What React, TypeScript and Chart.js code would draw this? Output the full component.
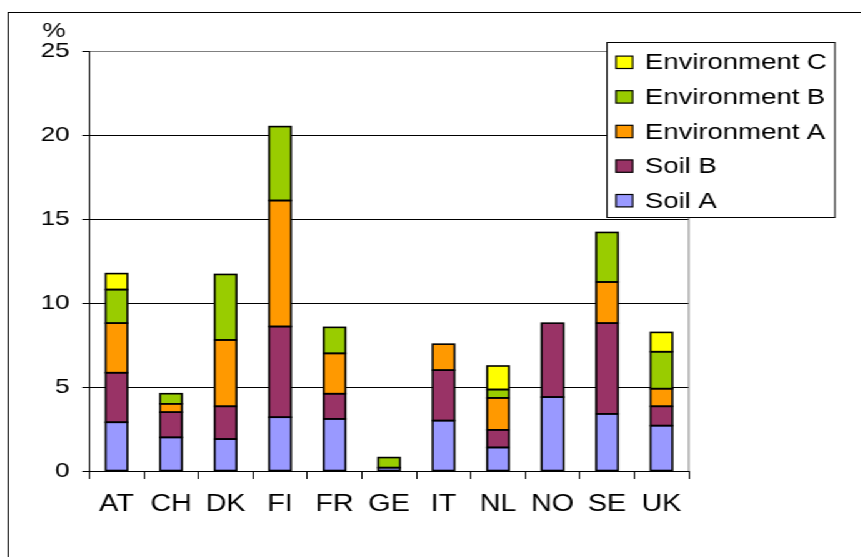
import React, { useEffect, useRef } from "react";
import { Chart, registerables } from "chart.js";

Chart.register(...registerables);

const categories = ["AT", "CH", "DK", "FI", "FR", "GE", "IT", "NL", "NO", "SE", "UK"];
const soilA = [2.9, 2.0, 1.9, 3.2, 3.1, 0.2, 3.0, 1.4, 4.4, 3.4, 2.7];
const soilB = [2.95, 1.5, 1.95, 5.4, 1.5, null, 3.0, 1.05, 4.4, 5.4, 1.15];
const envA = [2.95, 0.5, 3.95, 7.5, 2.4, null, 1.55, 1.9, null, 2.45, 1.05];
const envB = [2.0, 0.6, 3.9, 4.4, 1.55, 0.6, null, 0.5, null, 2.95, 2.2];
const envC = [0.95, null, null, null, null, null, null, 1.4, null, null, 1.15];
const yTicks = [0, 5, 10, 15, 20, 25];

const S = 1.25; // horizontal stretch of the reference
const W = 689;
const H = 557;
const FONT = "'Liberation Sans', Arial, sans-serif";

const decorPlugin = {
  id: "decor",
  beforeDraw(chart: any) {
    const ctx = chart.ctx;
    ctx.save();
    ctx.fillStyle = "#fff";
    ctx.fillRect(0, 0, chart.width, chart.height);
    ctx.strokeStyle = "#000";
    ctx.lineWidth = 1;
    ctx.strokeRect(6.5, 12.5, 2000, 2000);
    ctx.restore();
  },
  afterDatasetsDraw(chart: any) {
    const ctx = chart.ctx;
    const a = chart.chartArea;
    ctx.save();
    // bar outlines
    ctx.strokeStyle = "#000";
    ctx.lineWidth = 1.6;
    chart.data.datasets.forEach((_d: any, di: number) => {
      const meta = chart.getDatasetMeta(di);
      meta.data.forEach((el: any, i: number) => {
        const v = chart.data.datasets[di].data[i];
        if (v == null) return;
        const p = el.getProps(["x", "y", "base", "width"], true);
        const left = p.x - p.width / 2;
        const top = Math.min(p.y, p.base);
        const h = Math.abs(p.base - p.y);
        ctx.strokeRect(left, top, p.width, h);
      });
    });
    ctx.strokeStyle = "#808080";
    ctx.lineWidth = 1;
    ctx.beginPath();
    ctx.moveTo(a.right, a.top);
    ctx.lineTo(a.right, a.bottom);
    ctx.stroke();
    // % label
    ctx.fillStyle = "#000";
    ctx.font = `21px ${FONT}`;
    ctx.textAlign = "center";
    ctx.textBaseline = "middle";
    ctx.fillText("%", 43, 31);
    // legend
    const bx = 485.6, by = 42.5, bw = 182.4, bh = 175;
    ctx.fillStyle = "#fff";
    ctx.fillRect(bx, by, bw, bh);
    ctx.strokeStyle = "#000";
    ctx.strokeRect(bx, by, bw, bh);
    const ds = chart.data.datasets.slice().reverse();
    ctx.font = `22px ${FONT}`;
    ctx.textAlign = "left";
    ds.forEach((d: any, i: number) => {
      const cy = 62.3 + i * 34.6;
      ctx.fillStyle = d.backgroundColor;
      ctx.fillRect(492.8, cy - 6.2, 13.3, 12.4);
      ctx.strokeStyle = "#000";
      ctx.lineWidth = 1.2;
      ctx.strokeRect(492.8, cy - 6.2, 13.3, 12.4);
      ctx.fillStyle = "#000";
      ctx.fillText(d.label, 516, cy + 1);
    });
    ctx.restore();
  },
};

export default function App() {
  const ref = useRef<HTMLCanvasElement | null>(null);
  useEffect(() => {
    if (!ref.current) return;
    const mk = (label: string, data: any[], color: string) => ({
      label,
      data,
      backgroundColor: color,
      borderWidth: 0,
      inflateAmount: 0,
      categoryPercentage: 1,
      barPercentage: 0.4,
    });
    const chart = new Chart(ref.current, {
      type: "bar",
      data: {
        labels: categories,
        datasets: [
          mk("Soil A", soilA, "#9999FF"),
          mk("Soil B", soilB, "#993366"),
          mk("Environment A", envA, "#FF9900"),
          mk("Environment B", envB, "#99CC00"),
          mk("Environment C", envC, "#FFFF00"),
        ],
      },
      options: {
        animation: false,
        responsive: false,
        layout: { padding: { left: 0, top: 51, right: 138, bottom: 0 } },
        plugins: { legend: { display: false }, tooltip: { enabled: false }, title: { display: false } },
        scales: {
          x: {
            stacked: true,
            grid: { display: true, drawOnChartArea: false, drawTicks: true, tickLength: 8, color: "#000", offset: true },
            border: { color: "#000", width: 1 },
            ticks: { color: "#000", font: { family: FONT, size: 23 }, padding: 12, maxRotation: 0 },
            afterFit: (s: any) => { s.height = 86; },
          },
          y: {
            stacked: true,
            min: 0,
            max: 25,
            afterBuildTicks: (s: any) => { s.ticks = yTicks.map((v) => ({ value: v })); },
            grid: {
              color: (c: any) => (c.tick && c.tick.value === 25 ? "#808080" : "#000"),
              tickColor: "#000",
              tickLength: 5.6,
            },
            border: { color: "#000", width: 1 },
            ticks: { color: "#000", font: { family: FONT, size: 21 }, padding: 10, },
            afterFit: (s: any) => { s.width = 71.4; },
          },
        },
      },
      plugins: [decorPlugin],
    });
    return () => chart.destroy();
  }, []);
  return (
    <div
      style={{
        position: "fixed",
        left: 0,
        top: 0,
        width: W,
        height: H,
        transform: `scaleX(${S})`,
        transformOrigin: "0 0",
        background: "#fff",
      }}
    >
      <canvas ref={ref} width={W} height={H} style={{ width: W, height: H, display: "block" }} />
    </div>
  );
}
